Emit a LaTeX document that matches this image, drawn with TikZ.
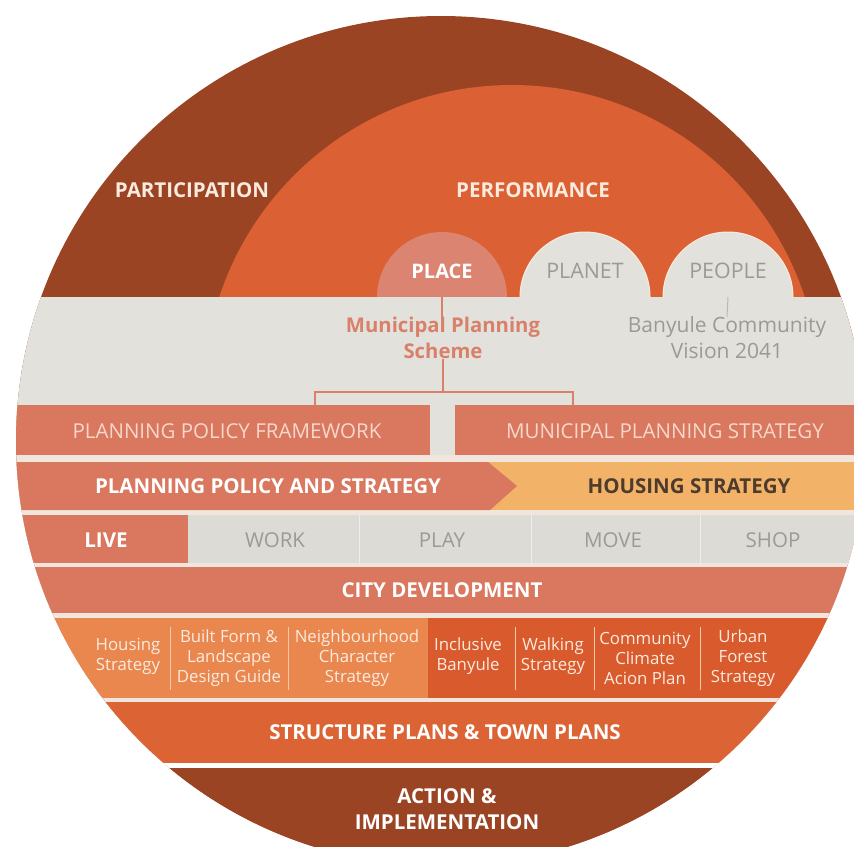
\documentclass[tikz,border=0pt]{standalone}
\usepackage{fontspec}
\setmainfont{Open Sans}
\definecolor{darkbrown}{HTML}{9B4424}
\definecolor{perf}{HTML}{DB6033}
\definecolor{salmon}{HTML}{D9775F}
\definecolor{placec}{HTML}{DA8471}
\definecolor{lgray}{HTML}{E3E1DC}
\definecolor{cellgray}{HTML}{DDDBD6}
\definecolor{sepc}{HTML}{F1E6DE}
\definecolor{housing}{HTML}{F2B268}
\definecolor{lorange}{HTML}{E9874E}
\definecolor{rorange}{HTML}{D95A2C}
\definecolor{structc}{HTML}{DC6434}
\definecolor{txtgray}{HTML}{9C9A96}
\definecolor{txtsalmon}{HTML}{D9806A}
\definecolor{cream}{HTML}{FBEBDF}
\definecolor{pale}{HTML}{F7D8CB}
\definecolor{darktxt}{HTML}{4D3B2E}
\definecolor{divc}{HTML}{F3C9A8}
\begin{document}
\begin{tikzpicture}[x=1pt,y=-1pt,
  headtxt/.style={inner sep=0pt, text=cream, font=\fontsize{20.5}{24}\selectfont\bfseries},
  pnode/.style={circle, minimum size=130pt, inner sep=0pt},
  bandtxt/.style={inner sep=0pt, align=center, font=\fontsize{21}{26}\selectfont},
  rowtxt/.style={inner sep=0pt, font=\fontsize{20.5}{24}\selectfont},
  boldtxt/.style={inner sep=0pt, text=white, font=\fontsize{20.5}{24}\selectfont\bfseries},
  celltxt/.style={inner sep=0pt, align=center, text=cream, font=\fontsize{16.8}{20}\selectfont},
  conn/.style={draw=txtsalmon, line width=1.5pt},
  conngray/.style={draw=txtgray!70, line width=1pt},
  divline/.style={draw=divc, line width=1pt}
]
\useasboundingbox (0,0) rectangle (854,847);
\begin{scope}
  \clip (0,0) rectangle (854,847);
  \clip (441,441) circle[radius=425pt];
  % outer participation ring
  \fill[darkbrown] (0,0) rectangle (854,847);
  % performance circle
  \fill[perf] (512,393) circle[radius=308pt];
  % place / planet / people
  \node[pnode, fill=placec] (placec) at (442,297) {};
  \node[pnode, fill=lgray, draw=cream, line width=1pt] (planetc) at (585,297) {};
  \node[pnode, fill=lgray, draw=cream, line width=1pt] (peoplec) at (728,297) {};
  % light band
  \fill[sepc] (0,455) rectangle (854,767);
  \fill[lgray] (0,297) rectangle (854,455);
  % row 1
  \fill[salmon] (0,405) rectangle (430,455);
  \fill[salmon] (455,405) rectangle (854,455);
  % row 2
  \fill[housing] (488,462) rectangle (854,510);
  \fill[salmon] (0,462) -- (488,462) -- (517,486) -- (490,510) -- (0,510) -- cycle;
  % row 3
  \fill[salmon] (0,515) rectangle (188,563);
  \fill[cellgray] (188,515) rectangle (854,563);
  \draw[lgray!60!white, line width=1pt] (359,515) -- (359,563) (531,515) -- (531,563) (700,515) -- (700,563);
  % row 4
  \fill[salmon] (0,567) rectangle (854,613);
  % row 5
  \fill[lorange] (0,618) rectangle (428,698);
  \fill[rorange] (428,618) rectangle (854,698);
  \draw[divline] (170,627) -- (170,690) (288,627) -- (288,690) (515,627) -- (515,690) (594,627) -- (594,690) (700,627) -- (700,690);
  % row 6
  \fill[structc] (0,702) rectangle (854,763);
  % row 7
  \fill[white] (0,763) rectangle (854,768);
  \fill[darkbrown] (0,768) rectangle (854,847);
\end{scope}

% top labels
\node[headtxt] (participation) at (192,190) {PARTICIPATION};
\node[headtxt] (performance) at (533,190) {PERFORMANCE};
\node[boldtxt, font=\fontsize{20}{24}\selectfont\bfseries] (place) at (442,271) {PLACE};
\node[rowtxt, text=txtgray, font=\fontsize{21.4}{24}\selectfont] (planet) at (585,271) {PLANET};
\node[rowtxt, text=txtgray, font=\fontsize{21.4}{24}\selectfont] (people) at (728,271) {PEOPLE};

% band texts
\node[bandtxt, text=txtsalmon, font=\fontsize{20.3}{26}\selectfont\bfseries] (mps) at (443,338) {Municipal Planning\\Scheme};
\node[bandtxt, text=txtgray] (bcv) at (727,338) {Banyule Community\\Vision 2041};

% connectors
\coordinate (bj) at (443,392);
\coordinate (bl) at (315,405);
\coordinate (br) at (573,405);
\draw[conn] (placec.center) -- (place.south |- mps.north);
\draw[conn] (mps.south) -- (bj);
\draw[conn] (bl) |- (bj) -| (br);
\draw[conngray] (peoplec.center) -- (bcv.north);

% row texts
\node[rowtxt, text=pale] (ppf) at (227,431) {PLANNING POLICY FRAMEWORK};
\node[rowtxt, text=pale] (mpst) at (665,431) {MUNICIPAL PLANNING STRATEGY};
\node[boldtxt] (pps) at (268,486) {PLANNING POLICY AND STRATEGY};
\node[boldtxt, text=darktxt] (hs) at (689,486) {HOUSING STRATEGY};
\node[boldtxt] (live) at (106,540) {LIVE};
\node[rowtxt, text=txtgray] (work) at (275,540) {WORK};
\node[rowtxt, text=txtgray] (play) at (442,540) {PLAY};
\node[rowtxt, text=txtgray] (move) at (613,540) {MOVE};
\node[rowtxt, text=txtgray] (shop) at (773,540) {SHOP};
\node[boldtxt] (city) at (442,590) {CITY DEVELOPMENT};

\node[celltxt] (c1) at (128,656) {Housing\\Strategy};
\node[celltxt] (c2) at (229,658) {Built Form \&\\Landscape\\Design Guide};
\node[celltxt] (c3) at (357,658) {Neighbourhood\\Character\\Strategy};
\node[celltxt] (c4) at (468,656) {Inclusive\\Banyule};
\node[celltxt] (c5) at (553,656) {Walking\\Strategy};
\node[celltxt] (c6) at (645,658) {Community\\Climate\\Acion Plan};
\node[celltxt] (c7) at (743,658) {Urban\\Forest\\Strategy};

\node[boldtxt] (spt) at (445,732) {STRUCTURE PLANS \& TOWN PLANS};
\node[boldtxt, align=center, font=\fontsize{20.5}{26}\selectfont\bfseries] (ai) at (447,809) {ACTION \&\\IMPLEMENTATION};
\end{tikzpicture}
\end{document}
